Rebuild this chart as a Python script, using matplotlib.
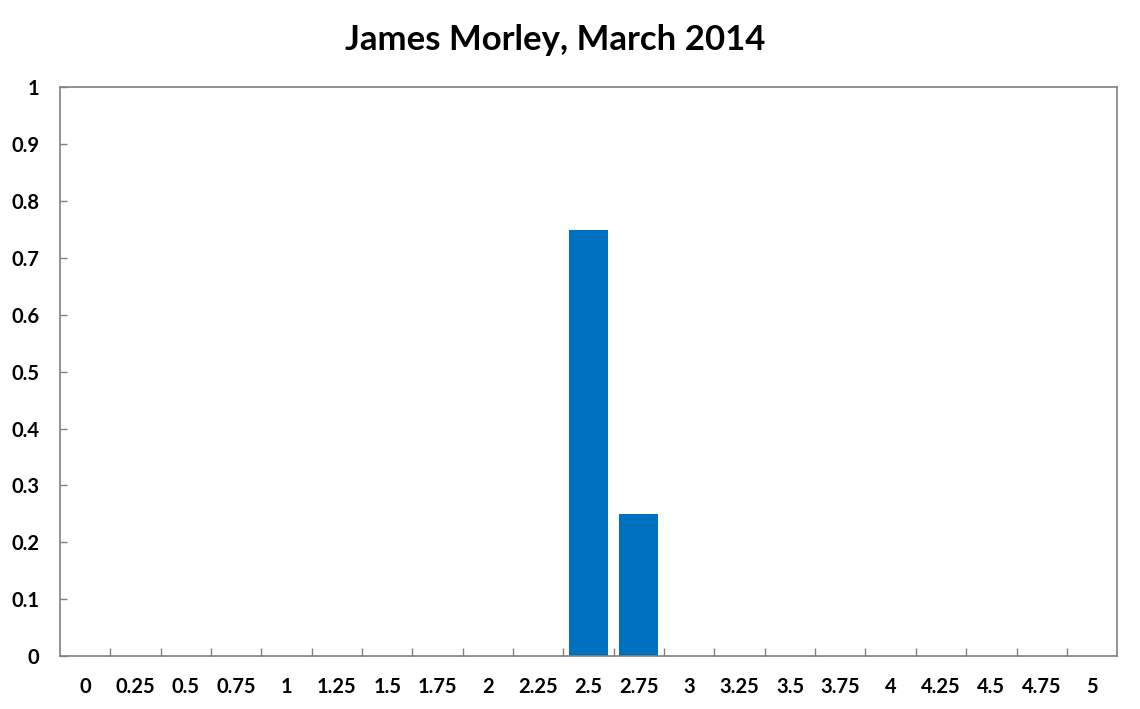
import numpy as np
import matplotlib.pyplot as plt
from matplotlib.ticker import FixedLocator

# categorias y valores
categorias = ['0', '0.25', '0.5', '0.75', '1', '1.25', '1.5', '1.75', '2', '2.25',
              '2.5', '2.75', '3', '3.25', '3.5', '3.75', '4', '4.25', '4.5', '4.75', '5']
valores = [0, 0, 0, 0, 0, 0, 0, 0, 0, 0,
           0.75, 0.25, 0, 0, 0, 0, 0, 0, 0, 0, 0]
y_ticks = [0, 0.1, 0.2, 0.3, 0.4, 0.5, 0.6, 0.7, 0.8, 0.9, 1]
y_labels = ['0', '0.1', '0.2', '0.3', '0.4', '0.5', '0.6', '0.7', '0.8', '0.9', '1']

plt.rcParams['font.family'] = ['Lato', 'DejaVu Sans']

fig = plt.figure(figsize=(11.4, 7.09), dpi=100)
ax = fig.add_axes([0.0526, 0.0748, 0.9274, 0.8018])

x = np.arange(len(categorias))
ax.bar(x, valores, width=0.775, color='#0070C0')

ax.set_xlim(-0.5, len(categorias) - 0.5)
ax.set_ylim(0, 1)

# ticks del eje x entre categorias
ax.set_xticks(x)
ax.set_xticklabels(categorias, fontsize=14.5, fontweight='bold')
ax.xaxis.set_minor_locator(FixedLocator(x[:-1] + 0.5))
ax.tick_params(axis='x', which='major', length=0, pad=15)
ax.tick_params(axis='x', which='minor', direction='in', length=6, width=1, color='#808080')

ax.set_yticks(y_ticks)
ax.set_yticklabels(y_labels, fontsize=14.5, fontweight='bold')
ax.tick_params(axis='y', direction='in', length=5, width=1, color='#808080', pad=15)

for s in ax.spines.values():
    s.set_color('#808080')
    s.set_linewidth(1.2)

fig.text(0.487, 0.944, 'James Morley, March 2014', ha='center', va='center',
         fontsize=25, fontweight='bold')

plt.savefig('out.png', dpi=100)
